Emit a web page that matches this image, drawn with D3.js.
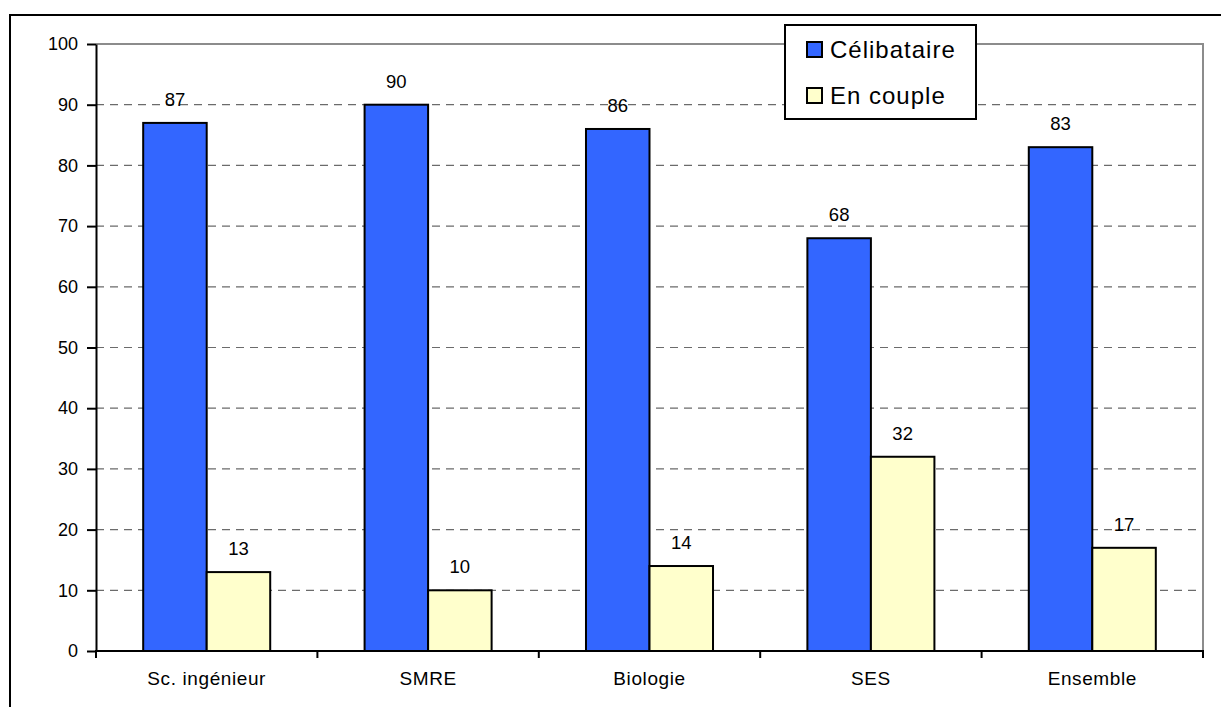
<!DOCTYPE html>
<html>
<head>
<meta charset="utf-8">
<script src="https://cdn.jsdelivr.net/npm/d3@7"></script>
<style>
  html, body { margin: 0; padding: 0; background: #fff; }
  svg { display: block; font-family: Arial, "Liberation Sans", sans-serif; }
</style>
</head>
<body>
<svg id="chart" width="1221" height="707"></svg>
<script>
// Share of students by living situation, per field of study (%)
const categories = ["Sc. ingénieur", "SMRE", "Biologie", "SES", "Ensemble"];
const seriesNames = ["Célibataire", "En couple"];
const celibataire = [87, 90, 86, 68, 83];
const enCouple = [13, 10, 14, 32, 17];
const yTicks = [0, 10, 20, 30, 40, 50, 60, 70, 80, 90, 100];
const seriesColors = ["#3366FF", "#FFFFCC"];

const rows = categories.map((c, i) => ({ cat: c, values: [celibataire[i], enCouple[i]] }));

const svg = d3.select("#chart");
const plot = { left: 96, right: 1203, top: 44, bottom: 651 };

// Outer chart frame (left and top edges)
svg.append("path")
  .attr("d", `M10,707 L10,15 L1221,15`)
  .attr("fill", "none").attr("stroke", "#000").attr("stroke-width", 2);

const x0 = d3.scaleBand().domain(categories).range([plot.left, plot.right]).paddingInner(0).paddingOuter(0);
const x1 = d3.scaleBand().domain([0, 1]).range([0, x0.bandwidth()]).paddingInner(0).paddingOuter(0.743);
const y = d3.scaleLinear().domain([0, 100]).range([plot.bottom, plot.top]);

// Dashed gridlines
svg.append("g").selectAll("line")
  .data(yTicks.filter(t => t > 0 && t < 100))
  .join("line")
  .attr("x1", plot.left).attr("x2", plot.right)
  .attr("y1", d => y(d)).attr("y2", d => y(d))
  .attr("stroke", "#6b6b6b").attr("stroke-width", 1.2)
  .attr("stroke-dasharray", "8,6");

// Plot area border (top and right)
svg.append("path")
  .attr("d", `M${plot.left},${y(100)} L${plot.right},${y(100)} L${plot.right},${plot.bottom}`)
  .attr("fill", "none").attr("stroke", "#8c8c8c").attr("stroke-width", 2);

// Bars
const groups = svg.append("g").selectAll("g")
  .data(rows).join("g")
  .attr("transform", d => `translate(${x0(d.cat)},0)`);

groups.selectAll("rect")
  .data(d => d.values.map((v, k) => ({ k, v })))
  .join("rect")
  .attr("x", d => x1(d.k))
  .attr("width", x1.bandwidth())
  .attr("y", d => y(d.v))
  .attr("height", d => y(0) - y(d.v))
  .attr("fill", d => seriesColors[d.k])
  .attr("stroke", "#000").attr("stroke-width", 2);

// Value labels
groups.selectAll("text")
  .data(d => d.values.map((v, k) => ({ k, v })))
  .join("text")
  .attr("x", d => x1(d.k) + x1.bandwidth() / 2)
  .attr("y", d => y(d.v) - 17)
  .attr("text-anchor", "middle")
  .attr("font-size", 18.5)
  .attr("fill", "#000")
  .text(d => d.v);

// Y axis
const yAxis = d3.axisLeft(y).tickValues(yTicks).tickSize(9).tickPadding(9).tickSizeOuter(0);
const gy = svg.append("g").attr("transform", `translate(${plot.left},0)`).call(yAxis);
gy.select(".domain").attr("stroke", "#000").attr("stroke-width", 2);
gy.selectAll(".tick line").attr("stroke", "#000").attr("stroke-width", 2);
gy.selectAll(".tick text").attr("font-size", 18).attr("fill", "#000")
  .attr("font-family", "Arial, 'Liberation Sans', sans-serif");

// X axis: ticks at category boundaries, labels centred under each group
const boundaries = categories.map(c => x0(c)).concat([plot.right]);
svg.append("line")
  .attr("x1", plot.left - 1).attr("x2", plot.right + 1)
  .attr("y1", plot.bottom).attr("y2", plot.bottom)
  .attr("stroke", "#000").attr("stroke-width", 2);
svg.append("g").selectAll("line")
  .data(boundaries).join("line")
  .attr("x1", d => d).attr("x2", d => d)
  .attr("y1", plot.bottom).attr("y2", plot.bottom + 7)
  .attr("stroke", "#000").attr("stroke-width", 2);
svg.append("g").selectAll("text")
  .data(categories).join("text")
  .attr("x", d => x0(d) + x0.bandwidth() / 2)
  .attr("y", plot.bottom + 34)
  .attr("text-anchor", "middle")
  .attr("font-size", 19)
  .attr("letter-spacing", 0.6)
  .attr("fill", "#000")
  .text(d => d);

// Legend
const legend = svg.append("g").attr("transform", "translate(785,25)");
legend.append("rect")
  .attr("width", 191).attr("height", 94)
  .attr("fill", "#fff").attr("stroke", "#000").attr("stroke-width", 2);
const items = legend.selectAll("g.item")
  .data(seriesNames).join("g").attr("class", "item")
  .attr("transform", (d, i) => `translate(22,${17 + i * 46})`);
items.append("rect")
  .attr("width", 15).attr("height", 15)
  .attr("fill", (d, i) => seriesColors[i])
  .attr("stroke", "#000").attr("stroke-width", 2);
items.append("text")
  .attr("x", 23).attr("y", 16)
  .attr("font-size", 24)
  .attr("letter-spacing", 1)
  .attr("fill", "#000")
  .text(d => d);
</script>
</body>
</html>
